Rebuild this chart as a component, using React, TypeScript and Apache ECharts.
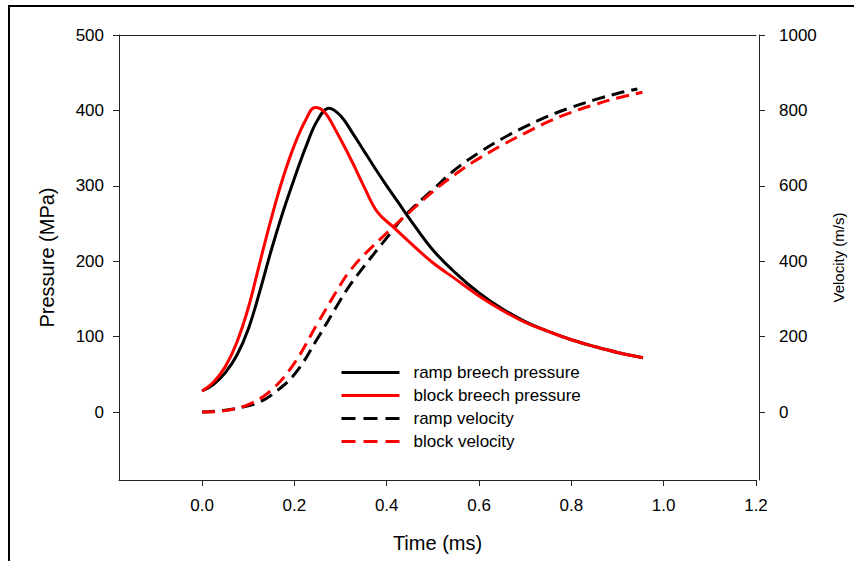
import React, { useEffect, useRef } from "react";
import * as echarts from "echarts";

const rampPressureTime = [0, 0.025, 0.05, 0.075, 0.1, 0.125, 0.15, 0.175, 0.2, 0.225, 0.25, 0.275, 0.3, 0.325, 0.35, 0.375, 0.4, 0.425, 0.45, 0.5, 0.55, 0.6, 0.65, 0.7, 0.75, 0.8, 0.85, 0.9, 0.955];
const rampPressure = [28, 37, 52, 75, 110, 160, 215, 265, 310, 352, 387, 403, 393, 371, 347, 323, 300, 278, 256, 215, 184, 158, 137, 120, 107, 96, 87, 79, 72];

const blockPressureTime = [0, 0.025, 0.05, 0.075, 0.1, 0.125, 0.15, 0.175, 0.2, 0.225, 0.245, 0.265, 0.29, 0.325, 0.35, 0.38, 0.415, 0.45, 0.5, 0.55, 0.6, 0.65, 0.7, 0.75, 0.8, 0.85, 0.9, 0.955];
const blockPressure = [28, 40, 60, 92, 138, 198, 257, 310, 354, 388, 404, 398, 373, 332, 300, 265, 245, 225, 198, 176, 154, 135, 119, 107, 96, 87, 79, 72];

const rampVelocityTime = [0, 0.05, 0.1, 0.125, 0.15, 0.2, 0.25, 0.3, 0.32, 0.35, 0.4, 0.44, 0.5, 0.55, 0.6, 0.65, 0.7, 0.75, 0.8, 0.85, 0.9, 0.943];
const rampVelocity = [0, 5, 17, 27, 45, 100, 195, 298, 336, 385, 462, 522, 590, 645, 688, 725, 757, 785, 808, 828, 845, 857];

const blockVelocityTime = [0, 0.05, 0.1, 0.15, 0.2, 0.25, 0.3, 0.32, 0.35, 0.414, 0.45, 0.5, 0.55, 0.587, 0.65, 0.7, 0.75, 0.8, 0.85, 0.9, 0.954];
const blockVelocity = [0, 4, 20, 58, 130, 235, 338, 374, 416, 491, 531, 585, 632, 663, 708, 740, 770, 795, 815, 833, 848];

const timeTicks = [0, 0.2, 0.4, 0.6, 0.8, 1.0, 1.2];
const pressureTicks = [0, 100, 200, 300, 400, 500];
const velocityTicks = [0, 200, 400, 600, 800, 1000];

const seriesNames = ["ramp breech pressure", "block breech pressure", "ramp velocity", "block velocity"];

const zip = (t: number[], v: number[]) => t.map((x, i) => [x, v[i]]);

const FONT = "'Liberation Sans', Arial, sans-serif";

export default function App() {
  const ref = useRef<HTMLDivElement>(null);
  useEffect(() => {
    document.body.style.margin = "0";
    if (!ref.current) return;
    const chart = echarts.init(ref.current, null, { renderer: "svg" });
    const axisLine = { show: true, onZero: false, lineStyle: { color: "#222", width: 1 } };
    const tick = { show: true, length: 6, lineStyle: { color: "#222", width: 1 } };
    const hidden = { opacity: 0, color: "rgba(0,0,0,0)", borderWidth: 0 };
    chart.setOption({
      animation: false,
      backgroundColor: "#fff",
      textStyle: { fontFamily: FONT },
      grid: { left: 119, right: 97, top: 35, bottom: 81, containLabel: false },
      graphic: [
        {
          type: "rect",
          shape: { x: 9, y: 6, width: 900, height: 600 },
          style: { fill: "none", stroke: "#000", lineWidth: 2 },
          silent: true,
        },
      ],
      legend: {
        orient: "vertical",
        left: 335,
        top: 359,
        itemWidth: 58,
        itemHeight: 14,
        itemGap: 6,
        textStyle: { fontSize: 17, color: "#000", fontFamily: FONT, padding: [0, 0, 0, 9] },
        data: [
          { name: seriesNames[0], itemStyle: hidden, lineStyle: { color: "#000", width: 3, type: "solid" } },
          { name: seriesNames[1], itemStyle: hidden, lineStyle: { color: "#f00", width: 3, type: "solid" } },
          { name: seriesNames[2], itemStyle: hidden, lineStyle: { color: "#000", width: 3, type: [14, 8] } },
          { name: seriesNames[3], itemStyle: hidden, lineStyle: { color: "#f00", width: 3, type: [14, 8] } },
        ],
      },
      xAxis: [
        {
          type: "value",
          min: -0.18,
          max: 1.2,
          name: "Time (ms)",
          nameLocation: "middle",
          nameGap: 53,
          nameTextStyle: { fontSize: 20, color: "#000", fontFamily: FONT },
          axisLine,
          axisTick: { ...tick, customValues: timeTicks },
          axisLabel: {
            customValues: timeTicks,
            formatter: (v: number) => v.toFixed(1),
            fontSize: 17,
            color: "#000",
            margin: 17,
            fontFamily: FONT,
          },
          splitLine: { show: false },
        },
        {
          type: "value",
          position: "top",
          min: -0.18,
          max: 1.2,
          axisLine,
          axisTick: { show: false },
          axisLabel: { show: false },
          splitLine: { show: false },
        },
      ],
      yAxis: [
        {
          type: "value",
          min: -90,
          max: 500,
          name: "Pressure (MPa)",
          nameLocation: "middle",
          nameGap: 62,
          nameRotate: 90,
          nameTextStyle: { fontSize: 20, color: "#000", fontFamily: FONT },
          axisLine,
          axisTick: { ...tick, customValues: pressureTicks },
          axisLabel: {
            customValues: pressureTicks,
            formatter: (v: number) => String(v),
            fontSize: 17,
            color: "#000",
            margin: 15,
            fontFamily: FONT,
          },
          splitLine: { show: false },
        },
        {
          type: "value",
          position: "right",
          offset: 3,
          min: -180,
          max: 1000,
          name: "Velocity (m/s)",
          nameLocation: "middle",
          nameGap: 72,
          nameRotate: 90,
          nameTextStyle: { fontSize: 15, color: "#000", fontFamily: FONT },
          axisLine,
          axisTick: { ...tick, customValues: velocityTicks },
          axisLabel: {
            customValues: velocityTicks,
            formatter: (v: number) => String(v),
            fontSize: 17,
            color: "#000",
            margin: 20,
            fontFamily: FONT,
          },
          splitLine: { show: false },
        },
      ],
      series: [
        {
          name: seriesNames[0],
          type: "line",
          yAxisIndex: 0,
          data: zip(rampPressureTime, rampPressure),
          smooth: 0.4,
          showSymbol: false,
          symbol: "none",
          lineStyle: { color: "#000", width: 3 },
          itemStyle: { color: "#000" },
          z: 3,
        },
        {
          name: seriesNames[1],
          type: "line",
          yAxisIndex: 0,
          data: zip(blockPressureTime, blockPressure),
          smooth: 0.4,
          showSymbol: false,
          symbol: "none",
          lineStyle: { color: "#f00", width: 3 },
          itemStyle: { color: "#f00" },
          z: 4,
        },
        {
          name: seriesNames[2],
          type: "line",
          yAxisIndex: 1,
          data: zip(rampVelocityTime, rampVelocity),
          smooth: 0.4,
          showSymbol: false,
          symbol: "none",
          lineStyle: { color: "#000", width: 3, type: [13, 7] },
          itemStyle: { color: "#000" },
          z: 3,
        },
        {
          name: seriesNames[3],
          type: "line",
          yAxisIndex: 1,
          data: zip(blockVelocityTime, blockVelocity),
          smooth: 0.4,
          showSymbol: false,
          symbol: "none",
          lineStyle: { color: "#f00", width: 3, type: [13, 7] },
          itemStyle: { color: "#f00" },
          z: 4,
        },
      ],
    });
    return () => chart.dispose();
  }, []);
  return <div ref={ref} style={{ width: 854, height: 561 }} />;
}
